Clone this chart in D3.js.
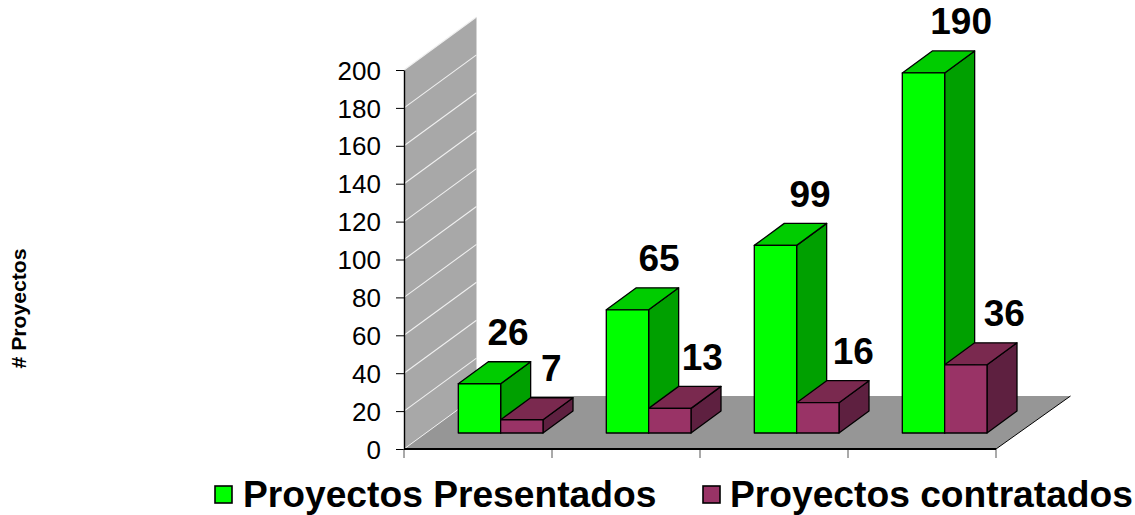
<!DOCTYPE html>
<html><head><meta charset="utf-8">
<script src="https://d3js.org/d3.v7.min.js"></script>
<style>html,body{margin:0;padding:0;background:#fff}svg{display:block}text{font-family:"Liberation Sans",Arial,sans-serif;fill:#000}</style>
</head><body><svg id="c" width="1135" height="515"></svg>
<script>
const categories = ["1","2","3","4"];
const seriesNames = ["Proyectos Presentados","Proyectos contratados"];
const presentados = [26,65,99,190];
const contratados = [7,13,16,36];
const yTicks = d3.range(0,201,20);
const yTitle = "# Proyectos";

const svg = d3.select("#c");
const x = d3.scaleBand().domain(categories).range([404,996]).paddingInner(0).paddingOuter(0);
const y = d3.scaleLinear().domain([0,200]).range([449,70]);
const inner = d3.scaleBand().domain([0,1]).range([32.3,117]);
const labelX = d3.scaleLinear().domain([479,966]).range([507.5,1004.5]);
const W = {dx:72.5,dy:-53};      // full floor depth
const F = {dx:22,dy:-16};        // bar front offset from axis plane
const B = {dx:30,dy:-22};        // bar depth
const pts = a => a.map(p=>p.join(",")).join(" ");

// wall
const y0=y(0), y2=y(200);
svg.append("polygon").attr("points",pts([[404,y0],[404+W.dx,y0+W.dy],[404+W.dx,y2+W.dy],[404,y2]])).attr("fill","#a8a8a8");
// floor
svg.append("polygon").attr("points",pts([[404,y0],[404+W.dx,y0+W.dy],[996+W.dx+2,y0+W.dy],[996,y0]])).attr("fill","#969696");
// gridlines
svg.append("g").selectAll("line").data(yTicks.slice(1)).join("line")
  .attr("x1",404).attr("y1",d=>y(d)).attr("x2",404+W.dx).attr("y2",d=>y(d)+W.dy)
  .attr("stroke","#f0f0f0").attr("stroke-width",1.1);
svg.append("line").attr("x1",404).attr("y1",y0).attr("x2",404+W.dx).attr("y2",y0+W.dy).attr("stroke","#eee").attr("stroke-width",1);
svg.append("line").attr("x1",996).attr("y1",y0).attr("x2",996+W.dx+2).attr("y2",y0+W.dy).attr("stroke","#000").attr("stroke-width",1);

// axes
const yAxis = d3.axisLeft(y).tickValues(yTicks).tickSize(8).tickSizeOuter(0);
const gy = svg.append("g").attr("transform","translate(404,0)").call(yAxis);
gy.select(".domain").attr("stroke","#000").attr("stroke-width",1.4);
gy.selectAll(".tick line").attr("stroke","#000").attr("stroke-width",1);
gy.selectAll("text").attr("font-size",26).attr("x",-23).attr("dy","0.35em").style("font-family",'"Liberation Sans"');
const xEdges = [404,...categories.map(c=>x(c)+x.bandwidth())];
svg.append("g").selectAll("line").data(xEdges).join("line")
  .attr("x1",d=>d).attr("x2",d=>d).attr("y1",y0).attr("y2",y0+9).attr("stroke","#555").attr("stroke-width",1);
svg.append("line").attr("x1",404).attr("x2",996).attr("y1",y0).attr("y2",y0).attr("stroke","#000").attr("stroke-width",1.8);

// bars
const colors=[{f:"#00ff00",t:"#00cc00",s:"#00a000"},{f:"#993366",t:"#7a294f",s:"#5e2040"}];
const rows=[presentados,contratados];
categories.forEach((c,ci)=>{
  rows.forEach((vals,si)=>{
    const v=vals[ci], col=colors[si];
    const xl=x(c)+inner(si)+F.dx, xr=xl+inner.bandwidth();
    const yb=y0+F.dy, yt=y(v)+F.dy;
    const g=svg.append("g").attr("stroke","#000").attr("stroke-width",1.3).attr("stroke-linejoin","round");
    g.append("polygon").attr("points",pts([[xr,yb],[xr+B.dx,yb+B.dy],[xr+B.dx,yt+B.dy],[xr,yt]])).attr("fill",col.s);
    g.append("polygon").attr("points",pts([[xl,yt],[xr,yt],[xr+B.dx,yt+B.dy],[xl+B.dx,yt+B.dy]])).attr("fill",col.t);
    g.append("rect").attr("x",xl).attr("y",yt).attr("width",xr-xl).attr("height",yb-yt).attr("fill",col.f);
  });
});
// value labels
categories.forEach((c,ci)=>{
  rows.forEach((vals,si)=>{
    const v=vals[ci];
    const xl=x(c)+inner(si)+F.dx;
    svg.append("text").attr("x",labelX(xl+inner.bandwidth()/2)).attr("y",y(v)+F.dy-38.5)
      .attr("text-anchor","middle").attr("font-size",37).attr("font-weight","bold").text(v);
  });
});
// y title
svg.append("text").attr("transform","translate(25.5,308.5) rotate(-90)").attr("text-anchor","middle")
  .attr("font-size",20.5).attr("font-weight","bold").attr("textLength",120).attr("lengthAdjust","spacingAndGlyphs").text(yTitle);
// legend
const lx=[215,703], tx=[243,730];
seriesNames.forEach((n,i)=>{
  svg.append("rect").attr("x",lx[i]).attr("y",486).attr("width",17).attr("height",17)
    .attr("fill",colors[i].f).attr("stroke","#000").attr("stroke-width",1.6);
  svg.append("text").attr("x",tx[i]).attr("y",507).attr("font-size",37.2).attr("font-weight","bold").text(n);
});
</script></body></html>
